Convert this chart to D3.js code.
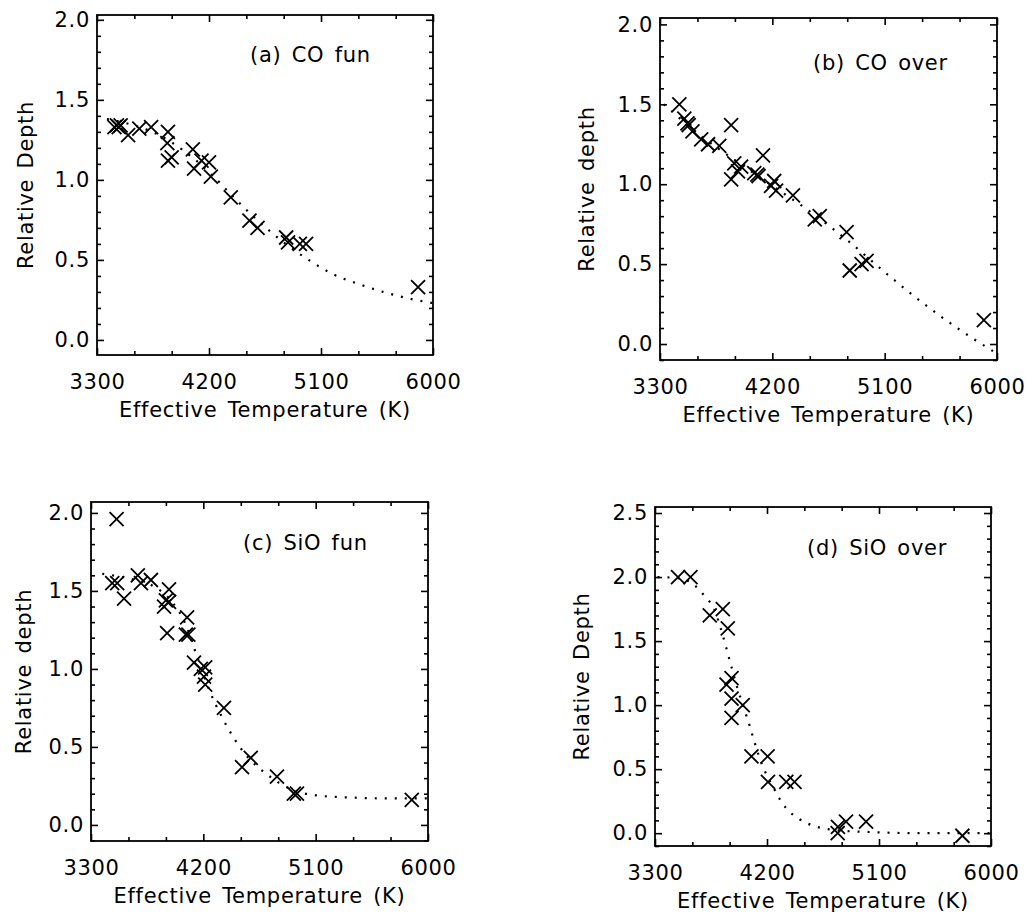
<!DOCTYPE html>
<html>
<head>
<meta charset="utf-8">
<script src="https://cdnjs.cloudflare.com/ajax/libs/d3/7.8.5/d3.min.js"></script>
<style>
body { margin:0; background:#fff; }
text { font-family:"DejaVu Sans", sans-serif; fill:#000; }
.axis text { font-size:21px; letter-spacing:0.7px; }
.titulo { font-size:21px; letter-spacing:0.7px; word-spacing:3px; }
</style>
</head>
<body>
<svg id="fig" width="1026" height="919"></svg>
<script>
// tick labels
var xTicks = [3300, 4200, 5100, 6000];
var yTicks = [0.0, 0.5, 1.0, 1.5, 2.0];
var yTicksD = [0.0, 0.5, 1.0, 1.5, 2.0, 2.5];

// (a) CO fun
var aTemp  = [3440,3460,3475,3490,3550,3640,3735,3870,3865,3870,3900,4070,4080,4140,4200,4215,4375,4525,4590,4820,4835,4930,4980,5880];
var aDepth = [1.33,1.34,1.33,1.34,1.28,1.32,1.33,1.30,1.23,1.12,1.14,1.19,1.07,1.12,1.11,1.02,0.89,0.745,0.70,0.64,0.61,0.60,0.60,0.33];
var aFitTemp  = [3380,3600,3800,4000,4200,4400,4600,4800,5000,5200,5400,5600,5800,6000];
var aFitDepth = [1.38,1.34,1.28,1.18,1.05,0.89,0.74,0.61,0.50,0.41,0.35,0.30,0.26,0.23];

// (b) CO over
var bTemp  = [3455,3495,3520,3530,3560,3630,3685,3775,3870,3870,3895,3925,3950,4055,4080,4090,4125,4190,4215,4230,4365,4540,4580,4795,4820,4915,4955,5895];
var bDepth = [1.50,1.41,1.38,1.37,1.33,1.28,1.25,1.24,1.37,1.03,1.13,1.08,1.11,1.07,1.06,1.05,1.18,0.99,1.02,0.96,0.93,0.78,0.80,0.70,0.46,0.50,0.52,0.15];
var bFitTemp  = [3330,3600,3900,4200,4500,4800,5100,5400,5700,6000];
var bFitDepth = [1.50,1.32,1.15,0.99,0.83,0.65,0.45,0.26,0.09,-0.06];

// (c) SiO fun
var cTemp  = [3470,3510,3505,3565,3675,3700,3780,3885,3900,3925,3925,3910,4070,4060,4080,4125,4180,4215,4205,4215,4365,4510,4580,4790,4925,4950,5870];
var cDepth = [1.55,1.55,1.96,1.45,1.60,1.55,1.57,1.40,1.44,1.51,1.43,1.23,1.33,1.22,1.22,1.04,1.00,1.01,0.95,0.90,0.75,0.37,0.43,0.31,0.20,0.20,0.16];
var cFitTemp  = [3390,3600,3800,3950,4050,4150,4250,4350,4450,4550,4700,4900,5100,5400,5700,6000];
var cFitDepth = [1.61,1.58,1.53,1.43,1.30,1.08,0.86,0.69,0.55,0.44,0.33,0.23,0.19,0.175,0.17,0.17];

// (d) SiO over
var dTemp  = [3485,3585,3740,3845,3885,3875,3915,3915,3915,4005,4075,4205,4208,4355,4421,4768,4770,4835,4996,5770];
var dDepth = [2.00,2.00,1.70,1.75,1.60,1.16,1.21,1.05,0.90,1.00,0.60,0.60,0.40,0.40,0.40,0.00,0.05,0.09,0.09,-0.02];
var dFitTemp  = [3320,3500,3600,3700,3780,3840,3900,3960,4020,4060,4100,4150,4200,4250,4300,4350,4460,4600,4800,5000,5400,6000];
var dFitDepth = [2.00,1.99,1.95,1.85,1.74,1.56,1.35,1.14,0.96,0.84,0.71,0.56,0.45,0.36,0.27,0.20,0.11,0.05,0.02,0.01,0.0,0.0];

var svg = d3.select("#fig");

var paneles = [
  {x0:97,  y0:15,  x1:433, y1:355, ymin:-0.094, ymax:2.03,  ticks:yTicks,
   label:"(a) CO fun",   lx:250, ly:62,  ytit:"Relative Depth", ytx:33,
   temp:aTemp, depth:aDepth, fitT:aFitTemp, fitD:aFitDepth},
  {x0:660, y0:18,  x1:997, y1:360, ymin:-0.1,   ymax:2.04,  ticks:yTicks,
   label:"(b) CO over",  lx:813, ly:70,  ytit:"Relative depth", ytx:594,
   temp:bTemp, depth:bDepth, fitT:bFitTemp, fitD:bFitDepth},
  {x0:91,  y0:502, x1:428, y1:841, ymin:-0.103, ymax:2.07,  ticks:yTicks,
   label:"(c) SiO fun",  lx:243, ly:550, ytit:"Relative depth", ytx:31,
   temp:cTemp, depth:cDepth, fitT:cFitTemp, fitD:cFitDepth},
  {x0:655, y0:507, x1:991, y1:846, ymin:-0.1,   ymax:2.547, ticks:yTicksD,
   label:"(d) SiO over", lx:807, ly:555, ytit:"Relative Depth", ytx:589,
   temp:dTemp, depth:dDepth, fitT:dFitTemp, fitD:dFitDepth}
];

function limpia_eje(sel) {
  sel.select(".domain").remove();
  sel.selectAll("line").attr("stroke", "#000").attr("stroke-width", 1.6);
}

function dibuja_panel(p) {
  var w = p.x1 - p.x0, h = p.y1 - p.y0;
  var g = svg.append("g").attr("transform", "translate(" + p.x0 + "," + p.y0 + ")");

  var x = d3.scaleLinear().domain([3300, 6000]).range([0, w]);
  var y = d3.scaleLinear().domain([p.ymin, p.ymax]).range([h, 0]);

  // minor ticks: 300 K in x, 0.1 in y
  var xMinor = d3.range(3300, 6001, 300).filter(function(d) { return xTicks.indexOf(d) < 0; });
  var yMinor = d3.range(Math.ceil(p.ymin * 10), Math.floor(p.ymax * 10) + 1)
    .filter(function(d) { return d % 5 != 0; })
    .map(function(d) { return d / 10; });

  // bottom, with labels
  g.append("g").attr("class", "axis").attr("transform", "translate(0," + h + ")")
    .call(d3.axisBottom(x).tickValues(xTicks).tickSize(-7).tickPadding(19).tickFormat(d3.format("d")))
    .call(limpia_eje);
  g.append("g").attr("transform", "translate(0," + h + ")")
    .call(d3.axisBottom(x).tickValues(xMinor).tickSize(-4).tickFormat(""))
    .call(limpia_eje);
  // top, no labels
  g.append("g")
    .call(d3.axisTop(x).tickValues(xTicks).tickSize(-7).tickFormat(""))
    .call(limpia_eje);
  g.append("g")
    .call(d3.axisTop(x).tickValues(xMinor).tickSize(-4).tickFormat(""))
    .call(limpia_eje);
  // left, with labels
  g.append("g").attr("class", "axis")
    .call(d3.axisLeft(y).tickValues(p.ticks).tickSize(-7).tickPadding(7).tickFormat(d3.format(".1f")))
    .call(limpia_eje);
  g.append("g")
    .call(d3.axisLeft(y).tickValues(yMinor).tickSize(-4).tickFormat(""))
    .call(limpia_eje);
  // right
  g.append("g").attr("transform", "translate(" + w + ",0)")
    .call(d3.axisRight(y).tickValues(p.ticks).tickSize(-7).tickFormat(""))
    .call(limpia_eje);
  g.append("g").attr("transform", "translate(" + w + ",0)")
    .call(d3.axisRight(y).tickValues(yMinor).tickSize(-4).tickFormat(""))
    .call(limpia_eje);

  g.append("rect")
    .attr("width", w).attr("height", h)
    .attr("fill", "none").attr("stroke", "#000").attr("stroke-width", 1.8);

  // dotted fit
  var fit = d3.zip(p.fitT, p.fitD);
  var linea = d3.line()
    .x(function(d) { return x(d[0]); })
    .y(function(d) { return y(d[1]); })
    .curve(d3.curveMonotoneX);
  g.append("path")
    .attr("d", linea(fit))
    .attr("fill", "none").attr("stroke", "#000")
    .attr("stroke-width", 2.2).attr("stroke-dasharray", "2,8");

  // crosses
  var pts = d3.zip(p.temp, p.depth);
  g.selectAll(".cruz")
    .data(pts)
    .enter()
    .append("path")
    .attr("class", "cruz")
    .attr("transform", function(d) { return "translate(" + x(d[0]) + "," + y(d[1]) + ")"; })
    .attr("d", "M-7,-7L7,7M-7,7L7,-7")
    .attr("fill", "none").attr("stroke", "#000").attr("stroke-width", 1.8);

  // texts
  svg.append("text").attr("class", "titulo")
    .attr("x", p.lx).attr("y", p.ly)
    .text(p.label);
  svg.append("text").attr("class", "titulo")
    .attr("x", (p.x0 + p.x1) / 2).attr("y", p.y1 + 62)
    .attr("text-anchor", "middle")
    .text("Effective Temperature (K)");
  svg.append("text").attr("class", "titulo")
    .attr("transform", "translate(" + p.ytx + "," + (p.y0 + p.y1) / 2 + ") rotate(-90)")
    .attr("text-anchor", "middle")
    .text(p.ytit);
}

paneles.forEach(dibuja_panel);
</script>
</body>
</html>
